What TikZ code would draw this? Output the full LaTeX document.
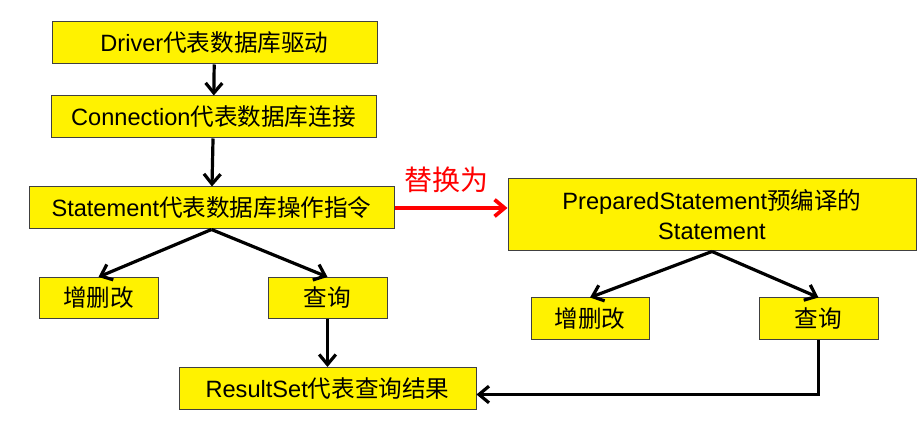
\documentclass[tikz,border=0pt]{standalone}
\usepackage{fontspec}
\setmainfont{Liberation Sans}
\newfontfamily\zhfont{Noto Sans CJK SC}
\newcommand{\zh}[1]{{\zhfont #1}}
\usetikzlibrary{arrows.meta}

\begin{document}
\begin{tikzpicture}[x=0.75pt, y=-0.75pt,
	every node/.style={font=\fontsize{17.7}{22.5}\selectfont},
	box/.style={draw=black!75, line width=0.75pt, fill=yellow, inner sep=0pt, align=center},
	link/.style={line width=2.4pt, -{Straight Barb[length=7.5pt,width=12.5pt]}}]
	\useasboundingbox (0,0) rectangle (922,423);
	\foreach \name/\x/\y/\w/\h/\txt in {drv/214.5/43/325/42/{Driver\zh{代表数据库驱动}}, conn/213.5/117/325/42/{Connection\zh{代表数据库连接}}, stmt/211.5/208/365/42/{Statement\zh{代表数据库操作指令}}, zsgA/98.5/298/119/41/{\zh{增删改}}, cxA/327.5/298/119/41/{\zh{查询}}, rs/327.5/388.5/297/42/{ResultSet\zh{代表查询结果}}, prep/712/215/408/72/{PreparedStatement\zh{预编译的}\\Statement}, zsgB/590/319/118/42/{\zh{增删改}}, cxB/818.5/319/119/42/{\zh{查询}}} {
		\node[box, minimum width=\w*0.75pt, minimum height=\h*0.75pt] (\name) at (\x,\y) {\txt};
	}
	\node[red, font=\fontsize{21}{24}\zhfont] (repl) at (446,180) {替换为};
	\draw[link] (drv) -- (conn);
	\draw[link] (conn) -- (stmt);
	\draw[link] (stmt.south) -- (zsgA.north);
	\draw[link] (stmt.south) -- (cxA.north);
	\draw[link] (cxA) -- (rs);
	\draw[link] (prep.south) -- (zsgB.north);
	\draw[link] (prep.south) -- (cxB.north);
	\draw[link] (cxB.south) |- ([yshift=-4.5pt]rs.east);
	\draw[link, red, line width=2.8pt] (stmt.east) -- (stmt.east -| prep.west);
\end{tikzpicture}
\end{document}
